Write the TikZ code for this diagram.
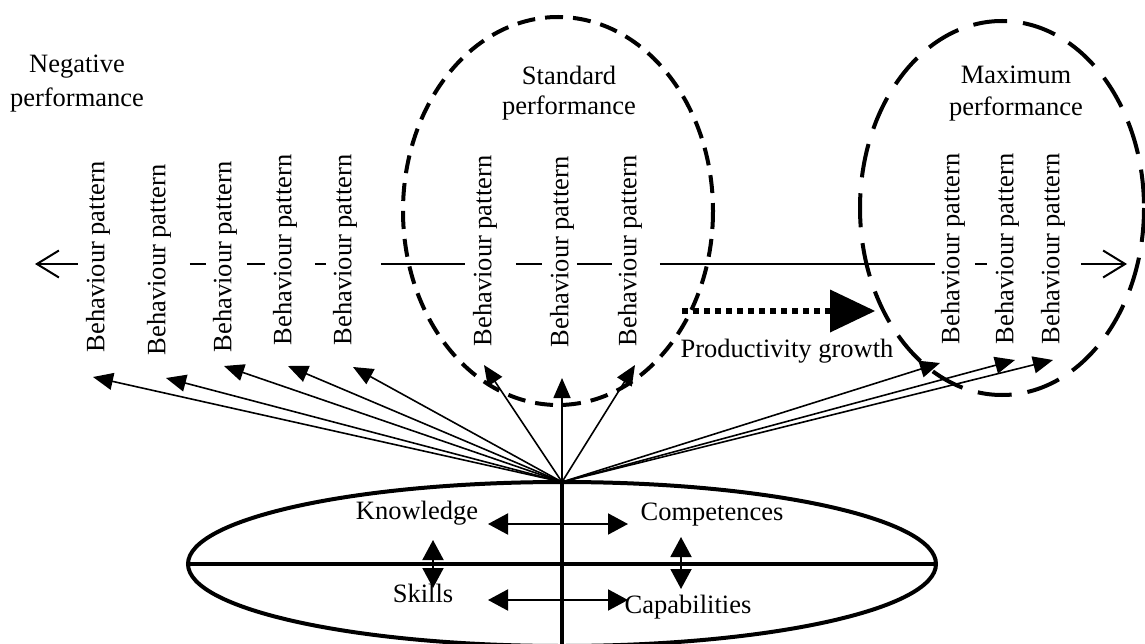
\documentclass[tikz,border=0pt]{standalone}
\usepackage{fontspec}
\setmainfont{Liberation Serif}
\usetikzlibrary{arrows.meta,calc}
\begin{document}
\begin{tikzpicture}[x=1pt,y=-1pt,
  every node/.style={font=\fontsize{26.5}{32}\selectfont, inner sep=0pt},
  bp/.style={rotate=90},
  heading/.style={align=center},
  fan/.style={line width=1.6pt,-{Triangle[length=20pt,width=17pt]}},
  axis/.style={line width=2pt,
    {Straight Barb[length=22pt,width=27pt]}-{Straight Barb[length=22pt,width=27pt]},
    dash pattern=on 40pt off 112pt on 16pt off 41pt on 18pt off 50pt on 11pt off 55pt
      on 84pt off 51pt on 26pt off 35pt on 35pt off 48pt on 275pt off 40pt
      on 12pt off 94pt on 49pt},
  stdring/.style={line width=4pt,dash pattern=on 18pt off 10pt},
  maxring/.style={line width=4pt,dash pattern=on 34pt off 16pt},
  growth/.style={line width=6pt,dash pattern=on 6pt off 5pt},
  growthtip/.style={-{Triangle[length=45pt,width=43pt,line width=0pt]}},
  base/.style={line width=4pt},
  link/.style={line width=2pt,{Triangle[length=20pt,width=21pt]}-{Triangle[length=20pt,width=21pt]}}
]
\useasboundingbox (0,0) rectangle (1145,644);

% performance zones
\draw[stdring] (558,211) ellipse [x radius=155, y radius=194];
\draw[maxring] (1002,208) ellipse [x radius=142, y radius=187];

% headings
\node[heading,font=\fontsize{26.5}{34}\selectfont] (neg) at (77,84) {Negative\\performance};
\node[heading,font=\fontsize{26.5}{30}\selectfont] (std) at (569,93) {Standard\\performance};
\node[heading,font=\fontsize{26.5}{32}\selectfont] (max) at (1016,94) {Maximum\\performance};

% performance axis
\coordinate (axL) at (35,264);
\coordinate (axR) at (1127,264);
\draw[axis] (axL) -- (axR);

% behaviour patterns
\node[bp] (b1)  at (98,257)   {Behaviour pattern};
\node[bp] (b2)  at (159,260)  {Behaviour pattern};
\node[bp] (b3)  at (225,257)  {Behaviour pattern};
\node[bp] (b4)  at (285,250)  {Behaviour pattern};
\node[bp] (b5)  at (345,250)  {Behaviour pattern};
\node[bp] (b6)  at (485,251)  {Behaviour pattern};
\node[bp] (b7)  at (562,252)  {Behaviour pattern};
\node[bp] (b8)  at (630,251)  {Behaviour pattern};
\node[bp] (b9)  at (953,249)  {Behaviour pattern};
\node[bp] (b10) at (1007,249) {Behaviour pattern};
\node[bp] (b11) at (1053,249) {Behaviour pattern};

% productivity growth
\coordinate (gA) at (682,311);
\coordinate (gB) at (830,311);
\coordinate (gC) at (875,311);
\draw[growth] (gA) -- (gB);
\draw[growthtip] (gB) -- (gC);
\node (prod) at (787,351) {Productivity growth};

% arrow tips below the patterns
\coordinate (t1)  at (93,377);
\coordinate (t2)  at (166,378);
\coordinate (t3)  at (224,366);
\coordinate (t4)  at (288,366);
\coordinate (t5)  at (353,367);
\coordinate (t6)  at (484,365);
\coordinate (t7)  at (562,378);
\coordinate (t8)  at (635,365);
\coordinate (t9)  at (940,363);
\coordinate (t10) at (1015,360);
\coordinate (t11) at (1053,360);

% base of knowledge, skills, competences, capabilities
\coordinate (hub) at (562,482);
\draw[base] (562,564) ellipse [x radius=374, y radius=82];
\coordinate (midL) at (188,564);
\coordinate (midR) at (936,564);
\coordinate (low) at (562,644);
\draw[base] (midL) -- (midR);
\draw[base] (hub) -- (low);

\foreach \t in {t1,t2,t3,t4,t5,t6,t7,t8,t9,t10,t11}
  \draw[fan] (hub) -- (\t);

\node (know) at (417,513) {Knowledge};
\node (comp) at (712,515) {Competences};
\node (skil) at (423,593) {Skills};
\node (capa) at (688,607) {Capabilities};

\coordinate (kL) at (488,524);
\coordinate (kR) at (628,524);
\coordinate (sL) at (488,600);
\coordinate (sR) at (628,600);
\coordinate (vLt) at (433,540);
\coordinate (vLb) at (433,588);
\coordinate (vRt) at (681,537);
\coordinate (vRb) at (681,589);
\draw[link] (kL) -- (kR);
\draw[link] (sL) -- (sR);
\draw[link] (vLt) -- (vLb);
\draw[link] (vRt) -- (vRb);
\end{tikzpicture}
\end{document}
